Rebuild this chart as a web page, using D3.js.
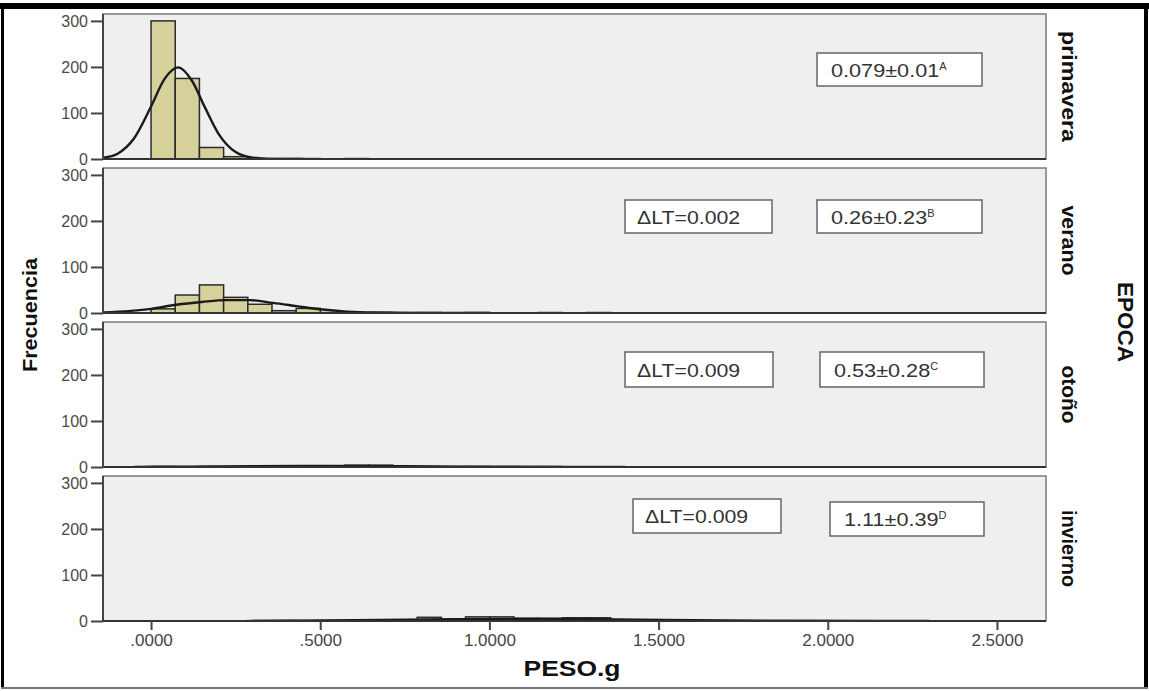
<!DOCTYPE html>
<html><head><meta charset="utf-8">
<script src="https://cdn.jsdelivr.net/npm/d3@7/dist/d3.min.js"></script>
<style>body{margin:0;background:#fff}svg{display:block}text{font-family:"Liberation Sans",Arial,sans-serif}</style>
</head><body><svg id="c" width="1149" height="691"></svg>
<script>
// ---- data ----
const categories = ["primavera", "verano", "otoño", "invierno"];
const binWidth = 0.0715;               // histogram bin width in g (bins start at 0)
const countsPrimavera = [300, 175, 25, 5, 1, 1, 1, 0, 1];
const countsVerano    = [9, 39, 61, 34, 19, 5, 10, 1, 1, 1, 0, 1, 0, 1, 0, 0, 1, 0, 1];
const countsOtono     = [1, 0, 1, 0, 0, 1, 1, 0, 4, 4, 0, 0, 0, 1, 0, 0, 1];
const countsInvierno  = [0, 0, 0, 0, 1, 1, 0, 0, 0, 1, 2, 8, 1, 9, 9, 6, 6, 7, 7, 1, 1, 1, 1];
// normal-fit curves: [PESO.g, frequency]
const curvePrimavera = [[-0.14,3],[-0.1,11],[-0.05,45],[0,114],[0.04,174],[0.08,199],[0.12,171],[0.16,111],[0.2,54],[0.25,15],[0.3,3],[0.35,0.3],[0.45,0]];
const curveVerano    = [[-0.14,1],[0,9],[0.075,18],[0.15,24],[0.22,28],[0.29,28],[0.36,22],[0.43,15],[0.5,8],[0.58,3],[0.66,1],[0.8,0.2],[1.0,0]];
const curveOtono     = [[-0.05,0.2],[0.1,0.8],[0.3,1.8],[0.53,2.5],[0.75,1.8],[0.95,0.8],[1.2,0.2],[1.4,0]];
const curveInvierno  = [[0.3,0.2],[0.6,1.8],[0.9,3.9],[1.11,4.5],[1.3,3.9],[1.6,1.8],[1.9,0.5],[2.15,0.1],[2.3,0]];
const meanLabels  = ["0.079±0.01", "0.26±0.23", "0.53±0.28", "1.11±0.39"];
const meanLetters = ["A", "B", "C", "D"];
const dltLabels   = [null, "ΔLT=0.002", "ΔLT=0.009", "ΔLT=0.009"];
const yTicks = [0, 100, 200, 300];
const xTicks = [0, 0.5, 1.0, 1.5, 2.0, 2.5];
const xTickLabels = [".0000", ".5000", "1.0000", "1.5000", "2.0000", "2.5000"];
const xTitle = "PESO.g", yTitle = "Frecuencia", stripTitle = "EPOCA";

const counts = [countsPrimavera, countsVerano, countsOtono, countsInvierno];
const curves = [curvePrimavera, curveVerano, curveOtono, curveInvierno];

// ---- layout ----
const svg = d3.select("#c");
const W = 1149, H = 691;
const left = 103, right = 1046;
const panelTops = [14, 168, 322, 476], panelH = 145;
const x = d3.scaleLinear().domain([-0.142, 2.645]).range([left, right]);
const widen = (sel, f) => sel.each(function(){ const n = this; n.setAttribute("textLength", n.getComputedTextLength()*f); n.setAttribute("lengthAdjust","spacingAndGlyphs"); });

// outer frame
svg.append("rect").attr("x",0).attr("y",0).attr("width",W).attr("height",H).attr("fill","#fff");
svg.append("rect").attr("x",0).attr("y",3).attr("width",W).attr("height",6).attr("fill","#000");
svg.append("rect").attr("x",1).attr("y",3).attr("width",3).attr("height",686).attr("fill","#000");
svg.append("rect").attr("x",1144).attr("y",3).attr("width",4).attr("height",686).attr("fill","#000");
svg.append("rect").attr("x",1).attr("y",687).attr("width",1147).attr("height",2).attr("fill","#777");

const boxes = [
  {m:[817,53,165,33], d:null},
  {m:[817,200,165,33], d:[625,200,147,33]},
  {m:[820,352,164,35], d:[625,352,148,35]},
  {m:[830,502,154,34], d:[633,499,148,34]}
];

categories.forEach((cat, i) => {
  const top = panelTops[i], bot = top + panelH;
  const y = d3.scaleLinear().domain([0, 315]).range([bot, top]);
  const g = svg.append("g");
  const clipId = "clip" + i;
  svg.append("clipPath").attr("id", clipId).append("rect")
    .attr("x", left).attr("y", top).attr("width", right-left).attr("height", panelH);
  g.append("rect").attr("x", left).attr("y", top).attr("width", right-left).attr("height", panelH)
    .attr("fill", "#efefef").attr("stroke", "#7a7a7a").attr("stroke-width", 1.5);

  const bins = counts[i].map((c, k) => ({x0: k*binWidth, x1: (k+1)*binWidth, c})).filter(b => b.c > 0);
  const pg = g.append("g").attr("clip-path", `url(#${clipId})`);
  pg.selectAll("rect.bar").data(bins).join("rect").attr("class","bar")
    .attr("x", b => x(b.x0)).attr("width", b => x(b.x1) - x(b.x0))
    .attr("y", b => y(b.c)).attr("height", b => bot - y(b.c))
    .attr("fill", "#d6d09a").attr("stroke", "#2b2b2b").attr("stroke-width", 1.5);
  pg.append("path").datum(curves[i])
    .attr("d", d3.line().x(d => x(d[0])).y(d => y(d[1])).curve(d3.curveMonotoneX))
    .attr("fill", "none").attr("stroke", "#1a1a1a").attr("stroke-width", 2.4);

  // baseline
  g.append("line").attr("x1", left).attr("x2", right).attr("y1", bot).attr("y2", bot)
    .attr("stroke", "#333").attr("stroke-width", 1.8);
  // y axis
  const ya = g.append("g").attr("transform", `translate(${left},0)`)
    .call(d3.axisLeft(y).tickValues(yTicks).tickSize(12).tickPadding(3).tickFormat(d3.format("d")));
  ya.select(".domain").attr("stroke", "#444").attr("stroke-width", 2).attr("d", `M0,${top}V${bot}`);
  ya.selectAll(".tick line").attr("stroke", "#444").attr("stroke-width", 2);
  ya.selectAll(".tick text").attr("fill", "#4a4a4a").style("font-size", "16px")
    .style("font-family", '"Liberation Sans",Arial,sans-serif');

  // strip label
  svg.append("text").attr("transform", `translate(1069,${top + panelH/2}) rotate(90)`)
    .attr("text-anchor", "middle").attr("dominant-baseline", "central")
    .style("font-size", "20px").style("font-weight", "bold").attr("fill", "#111")
    .attr("textLength", [111, 70, 58, 77][i]).attr("lengthAdjust", "spacingAndGlyphs")
    .text(cat);

  // annotation boxes
  const b = boxes[i];
  g.append("rect").attr("x", b.m[0]).attr("y", b.m[1]).attr("width", b.m[2]).attr("height", b.m[3])
    .attr("fill", "#fff").attr("stroke", "#666").attr("stroke-width", 1.5);
  const t = g.append("text").attr("x", b.m[0] + 14).attr("y", b.m[1] + b.m[3]/2 + 7)
    .style("font-size", "19px").attr("fill", "#333");
  const t1 = t.append("tspan").text(meanLabels[i]);
  t.append("tspan").attr("dy", -7).style("font-size", "11px").text(meanLetters[i]);
  widen(t1, 1.14);
  if (b.d) {
    g.append("rect").attr("x", b.d[0]).attr("y", b.d[1]).attr("width", b.d[2]).attr("height", b.d[3])
      .attr("fill", "#fff").attr("stroke", "#666").attr("stroke-width", 1.5);
    const tx = g.append("text").attr("x", b.d[0] + 12).attr("y", b.d[1] + b.d[3]/2 + 7)
      .style("font-size", "19px").attr("fill", "#333").text(dltLabels[i]);
    widen(tx, 1.12);
  }
});

// bottom x axis
const lastBot = panelTops[3] + panelH;
const xa = svg.append("g").attr("transform", `translate(0,${lastBot})`)
  .call(d3.axisBottom(x).tickValues(xTicks).tickSize(9).tickPadding(4).tickFormat((d, k) => xTickLabels[k]));
xa.select(".domain").attr("stroke", "#333").attr("stroke-width", 1.8).attr("d", `M${left},0H${right}`);
xa.selectAll(".tick line").attr("stroke", "#444").attr("stroke-width", 2);
xa.selectAll(".tick text").attr("fill", "#444").style("font-size", "17px")
  .style("font-family", '"Liberation Sans",Arial,sans-serif');

svg.append("text").attr("x", 572).attr("y", 676).attr("text-anchor", "middle")
  .style("font-size", "22px").style("font-weight", "bold").attr("fill", "#111")
  .attr("textLength", 97).attr("lengthAdjust", "spacingAndGlyphs").text(xTitle);
svg.append("text").attr("transform", "translate(30,315) rotate(-90)")
  .attr("text-anchor", "middle").attr("dominant-baseline", "central")
  .style("font-size", "20px").style("font-weight", "bold").attr("fill", "#111")
  .attr("textLength", 114).attr("lengthAdjust", "spacingAndGlyphs").text(yTitle);
svg.append("text").attr("transform", "translate(1125,322) rotate(90)")
  .attr("text-anchor", "middle").attr("dominant-baseline", "central")
  .style("font-size", "22px").style("font-weight", "bold").attr("fill", "#111")
  .attr("textLength", 80).attr("lengthAdjust", "spacingAndGlyphs").text(stripTitle);
</script></body></html>
